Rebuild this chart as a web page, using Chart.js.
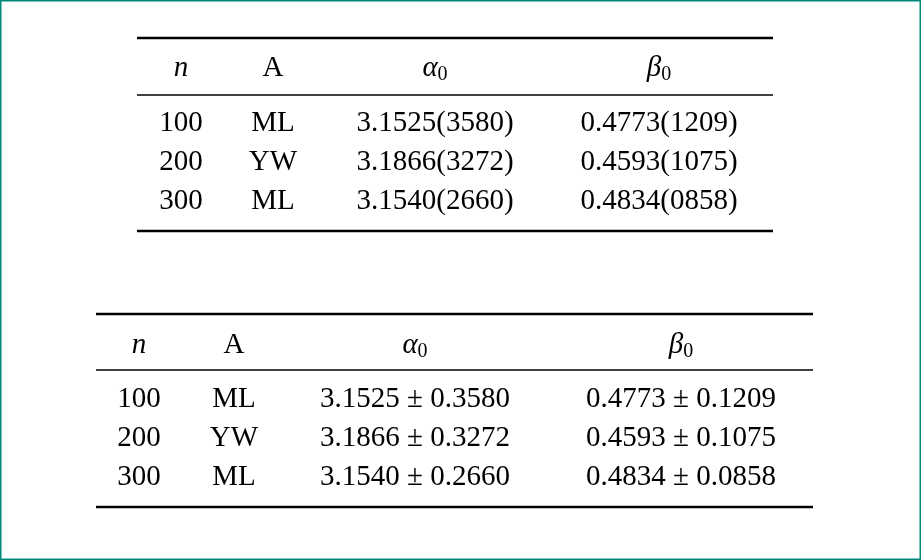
<!DOCTYPE html>
<html><head><meta charset="utf-8">
<script src="https://cdn.jsdelivr.net/npm/chart.js@4"></script>
<style>html,body{margin:0;padding:0;background:#fff}canvas{display:block}</style>
</head><body>
<canvas id="c" width="921" height="560"></canvas>
<script>
const headers = ["n", "A", "α", "β"];
const sampleSizes = ["100", "200", "300"];
const methods = ["ML", "YW", "ML"];
const alphaMean = ["3.1525", "3.1866", "3.1540"];
const alphaSd = ["3580", "3272", "2660"];
const alphaSdFull = ["0.3580", "0.3272", "0.2660"];
const betaMean = ["0.4773", "0.4593", "0.4834"];
const betaSd = ["1209", "1075", "0858"];
const betaSdFull = ["0.1209", "0.1075", "0.0858"];

// layout
const tables = [
  {left:137, right:773, rules:[38,95,231], headY:68, rowY:[123,162,201], colX:[181,273,435,659],
   a:i=>alphaMean[i]+"("+alphaSd[i]+")", b:i=>betaMean[i]+"("+betaSd[i]+")"},
  {left:96, right:813, rules:[314,370,507], headY:345, rowY:[399,438,477], colX:[139,234,415,681],
   a:i=>alphaMean[i]+" ± "+alphaSdFull[i], b:i=>betaMean[i]+" ± "+betaSdFull[i]}
];
const FONT = '"Liberation Serif", serif';
const FS = 29;

const tablePlugin = {
  id:'table',
  afterDraw(chart){
    const ctx = chart.ctx, xs = chart.scales.x, ys = chart.scales.y;
    const X = v=>xs.getPixelForValue(v), Y = v=>ys.getPixelForValue(v);
    ctx.save();
    ctx.strokeStyle = '#00897b'; ctx.lineWidth = 1.5;
    ctx.strokeRect(X(0)+0.75, Y(0)+0.75, X(921)-X(0)-1.5, Y(560)-Y(0)-1.5);
    ctx.fillStyle = '#000'; ctx.strokeStyle = '#000';
    ctx.textBaseline = 'middle';
    for (const t of tables){
      t.rules.forEach((r,k)=>{
        ctx.lineWidth = k===1 ? 1.3 : 2.4;
        ctx.beginPath(); ctx.moveTo(X(t.left), Y(r)); ctx.lineTo(X(t.right), Y(r)); ctx.stroke();
      });
      headers.forEach((h,j)=>{
        const italic = j!==1;
        const sub = j>=2;
        ctx.font = (italic?'italic ':'') + FS + 'px ' + FONT;
        const w = ctx.measureText(h).width;
        let subW = 0;
        if (sub){ ctx.font = Math.round(FS*0.7)+'px '+FONT; subW = ctx.measureText('0').width; }
        const x0 = X(t.colX[j]) - (w+subW)/2;
        ctx.font = (italic?'italic ':'') + FS + 'px ' + FONT;
        ctx.textAlign = 'left';
        ctx.fillText(h, x0, Y(t.headY));
        if (sub){ ctx.font = Math.round(FS*0.7)+'px '+FONT; ctx.fillText('0', x0+w, Y(t.headY)+7); }
      });
      ctx.font = FS + 'px ' + FONT; ctx.textAlign = 'center';
      sampleSizes.forEach((n,i)=>{
        const y = Y(t.rowY[i]);
        ctx.fillText(n, X(t.colX[0]), y);
        ctx.fillText(methods[i], X(t.colX[1]), y);
        ctx.fillText(t.a(i), X(t.colX[2]), y);
        ctx.fillText(t.b(i), X(t.colX[3]), y);
      });
    }
    ctx.restore();
  }
};

new Chart(document.getElementById('c'), {
  type:'scatter',
  data:{datasets:[{data:[], pointRadius:0}]},
  options:{
    responsive:false, animation:false, devicePixelRatio:1,
    layout:{padding:0},
    plugins:{legend:{display:false}, tooltip:{enabled:false}},
    scales:{
      x:{type:'linear', min:0, max:921, display:false},
      y:{type:'linear', min:0, max:560, reverse:true, display:false}
    }
  },
  plugins:[tablePlugin]
});
</script>
</body></html>
